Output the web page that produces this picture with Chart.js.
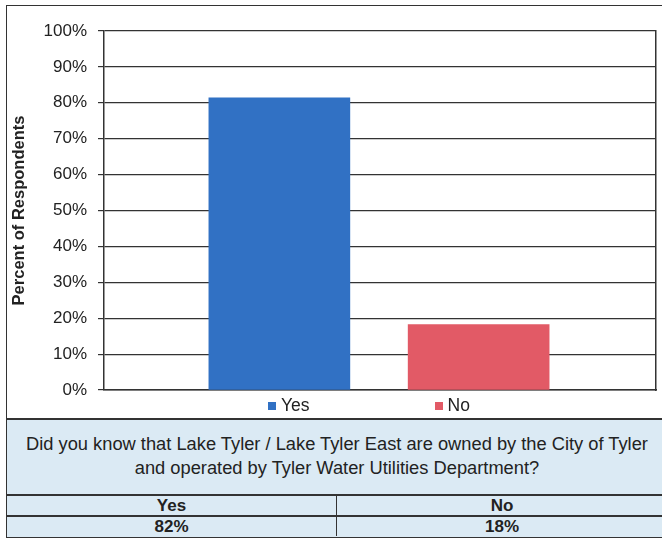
<!DOCTYPE html>
<html>
<head>
<meta charset="utf-8">
<script src="https://cdn.jsdelivr.net/npm/chart.js@4/dist/chart.umd.min.js"></script>
<style>
  body { margin: 0; width: 662px; height: 538px; overflow: hidden; background: #fff; font-family: Arial, "Liberation Sans", sans-serif; color: #222; }
  #frame { position: absolute; left: 6px; top: 5px; width: 660px; height: 531px; border: 1.5px solid #333; }
  #wrap { position: absolute; left: 0; top: 0; width: 662px; height: 418px; }
  #legend { position: absolute; left: 268px; top: 395px; display: flex; font-size: 17.5px; }
  #legend .item { display: flex; align-items: center; }
  #legend .box { width: 8px; height: 8px; margin-right: 5px; }
  #panel { position: absolute; left: 7px; top: 418px; width: 660px; height: 119px; background: #dbeaf4; border-top: 2px solid #333; }
  #question { text-align: center; font-size: 18.3px; line-height: 24px; padding-top: 12px; height: 62px; }
  #panel table { border-collapse: collapse; width: 100%; font-weight: bold; font-size: 17px; }
  #panel td { text-align: center; height: 19px; padding: 0; border-top: 2px solid #333; line-height: 19px; }
  #panel td + td { border-left: 1.5px solid #333; }
</style>
</head>
<body>
<div id="wrap"><canvas id="myChart"></canvas></div>
<div id="legend"></div>
<div id="panel">
  <div id="question"></div>
  <table><tr id="headRow"></tr><tr id="valRow"></tr></table>
</div>
<div id="frame"></div>
<script>
// --- data
const categories = ['Yes', 'No']
const percents = [81.4, 18.2]
const tableValues = ['82%', '18%']
const barColors = ['#3171c4', '#e25a66']
const yTicks = [0, 10, 20, 30, 40, 50, 60, 70, 80, 90, 100]
const question = 'Did you know that Lake Tyler / Lake Tyler East are owned by the City of Tyler<br>and operated by Tyler Water Utilities Department?'

// legend + table below the chart
const legend = document.getElementById('legend')
categories.forEach((c, i) => {
    const item = document.createElement('div')
    item.className = 'item'
    if (i > 0) item.style.marginLeft = '125px'
    item.innerHTML = '<span class="box" style="background:' + barColors[i] + '"></span>' + c
    legend.appendChild(item)
})
document.getElementById('question').innerHTML = question
const headRow = document.getElementById('headRow')
const valRow = document.getElementById('valRow')
categories.forEach((c, i) => {
    const th = document.createElement('td'); th.textContent = c
    th.style.width = i === 0 ? '329px' : 'auto'
    headRow.appendChild(th)
    const td = document.createElement('td'); td.textContent = tableValues[i]
    valRow.appendChild(td)
})

const axisColor = '#333'
const ctx = document.getElementById('myChart')
const myChart = new Chart(ctx, {
    type: 'bar',
    data: {
        datasets: [{
            label: 'Percent of Respondents',
            data: categories.map((c, i) => ({ x: i + 1, y: percents[i] })),
            backgroundColor: barColors,
            borderWidth: 0,
            barThickness: 141
        }]
    },
    options: {
        animation: false,
        responsive: true,
        maintainAspectRatio: false,
        layout: { padding: { left: 8, right: 6, top: 31, bottom: 20 } },
        plugins: { legend: { display: false }, tooltip: { enabled: false } },
        scales: {
            x: {
                type: 'linear',
                offset: false,
                min: 0.12,
                max: 2.89,
                ticks: { display: false },
                grid: { display: false },
                border: { display: true, color: axisColor, width: 1.5 }
            },
            y: {
                min: 0,
                max: 100,
                afterBuildTicks: (scale) => { scale.ticks = yTicks.map(v => ({ value: v })) },
                afterFit: (scale) => { scale.width = 96 },
                ticks: {
                    callback: (v) => v + '%',
                    color: '#222',
                    font: { family: 'Arial', size: 17 },
                    padding: 11
                },
                grid: { color: axisColor, lineWidth: 1.2, tickLength: 6 },
                border: { color: axisColor, width: 1.5 },
                title: {
                    display: true,
                    text: 'Percent of Respondents',
                    color: '#222',
                    font: { family: 'Arial', size: 16.5, weight: 'bold' },
                    padding: { top: 2, bottom: 0 }
                }
            },
            y2: {
                position: 'right',
                min: 0,
                max: 100,
                ticks: { display: false },
                grid: { display: false },
                border: { display: true, color: axisColor, width: 1.5 },
                afterFit: (scale) => { scale.width = 0 }
            }
        }
    }
})
</script>
</body>
</html>
